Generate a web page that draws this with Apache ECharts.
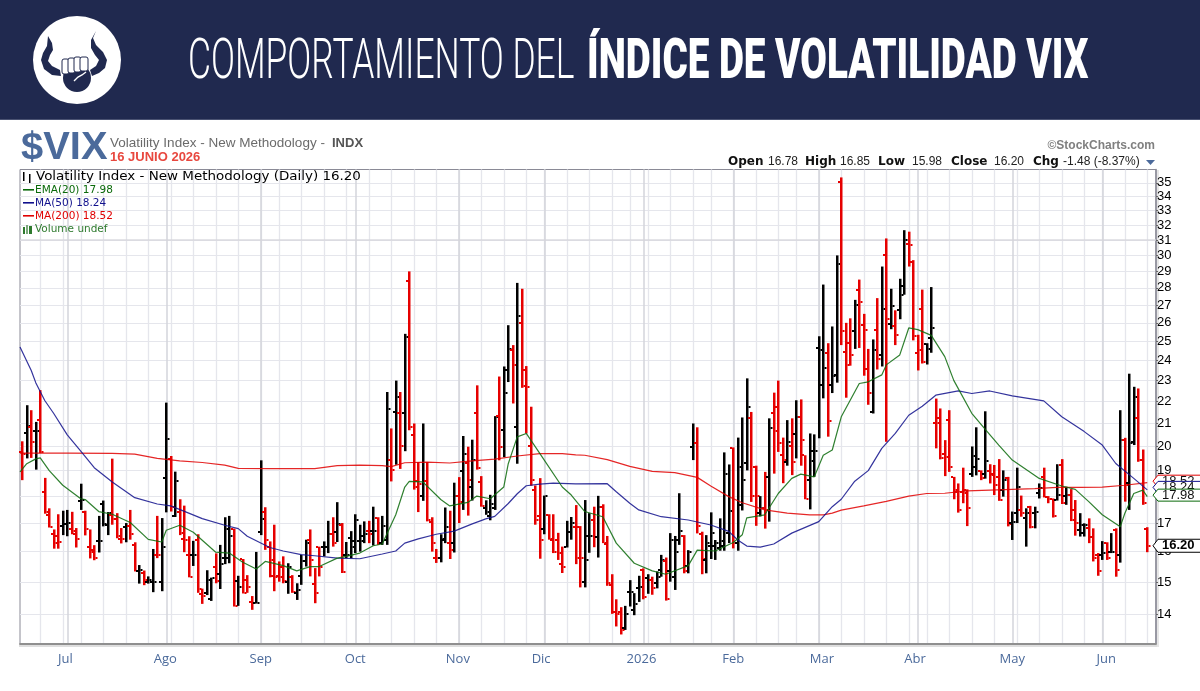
<!DOCTYPE html>
<html><head><meta charset="utf-8">
<style>html,body{margin:0;padding:0;background:#fff}#c{width:1200px;height:691px}</style>
<script src="https://cdn.jsdelivr.net/npm/echarts@6/dist/echarts.min.js"></script>
</head><body><div id="c"></div>
<script>
const opens=[19.76,20.56,20.85,20.66,21.15,18.15,17.3,16.62,16.53,16.88,
16.98,16.77,16.6,17.82,17.42,16.17,16.06,16.38,17.7,16.94,
17.3,17.14,16.44,16.85,16.88,16.22,15.37,15.28,15.01,15.0,
15.87,15.01,18.7,19.49,17.26,17.42,16.44,15.9,15.87,16.4,
14.61,14.64,14.46,15.5,15.25,15.78,15.78,16.77,15.04,15.75,
15.06,14.38,14.36,16.68,17.39,16.17,15.2,15.2,15.5,15.01,
15.17,14.66,15.18,15.67,16.41,14.94,16.17,16.17,16.17,16.6,
16.68,16.92,15.89,16.47,16.35,16.35,16.53,16.71,16.71,17.18,
16.29,16.41,19.42,21.5,21.45,21.46,28.4,20.5,18.6,18.0,
18.6,17.02,15.78,15.78,16.41,16.29,16.29,18.02,19.0,19.32,
18.35,21.45,18.53,17.54,17.24,17.54,21.33,20.72,23.5,24.55,
20.84,25.97,23.5,20.0,18.22,17.24,16.8,17.3,16.41,16.41,
15.58,16.17,16.68,16.85,16.87,15.01,16.54,17.11,16.52,17.6,
16.25,14.91,14.08,14.08,13.6,14.67,14.13,14.8,15.4,15.12,
15.06,14.98,15.39,15.68,15.34,15.17,16.4,16.54,15.52,19.99,
20.13,16.6,15.72,16.18,16.18,16.11,16.18,16.64,19.95,16.29,
17.66,19.29,21.26,19.13,17.36,17.54,18.75,21.49,21.76,19.63,
19.35,20.03,20.52,21.3,19.63,18.63,19.8,24.65,22.77,24.4,
22.77,23.27,35.05,24.45,24.9,25.55,27.85,25.9,23.55,21.5,
25.6,24.3,30.0,25.95,25.8,26.7,28.1,30.75,29.6,24.4,
26.8,24.85,25.15,21.03,21.25,19.7,21.15,18.73,18.17,18.17,
18.23,18.87,19.15,18.97,18.87,19.0,18.87,18.75,18.23,18.71,
17.01,17.38,17.48,17.2,17.58,17.36,18.1,18.75,17.95,17.88,
17.85,19.23,18.0,18.04,17.48,16.74,16.64,16.83,16.52,15.89,
15.89,16.29,15.97,16.74,15.89,20.27,18.49,20.2,21.25,19.43,
16.78];
const highs=[20.22,21.83,21.6,21.07,22.54,18.71,17.54,16.77,17.32,17.45,
17.48,17.41,16.82,18.48,17.45,16.77,16.22,17.26,17.83,17.4,
19.49,17.36,16.82,17.0,17.48,16.32,15.55,15.37,15.18,16.09,
17.26,17.18,21.95,19.6,18.96,17.88,17.64,16.53,16.37,16.6,
14.79,15.38,15.14,15.94,16.23,17.21,17.26,16.8,15.2,15.75,
15.22,14.56,15.99,19.42,17.58,16.35,16.94,15.67,15.84,15.61,
15.22,14.96,15.89,16.41,16.77,15.45,16.17,16.35,17.08,17.21,
17.77,17.0,16.33,16.71,17.32,16.94,17.06,17.08,17.6,17.21,
17.26,22.45,20.78,23.0,22.45,25.4,29.0,21.0,19.35,21.0,
19.35,17.21,16.09,16.6,17.57,17.45,18.52,18.74,20.45,19.99,
20.29,22.77,18.78,17.84,18.05,21.33,23.2,23.7,25.87,24.8,
28.3,27.95,23.72,21.76,18.41,18.7,18.02,17.32,17.32,16.65,
16.17,17.08,17.22,17.66,16.89,17.85,17.36,17.6,18.01,17.69,
16.54,15.25,14.46,14.22,14.26,15.06,14.65,15.2,15.44,15.25,
15.17,15.34,15.89,15.8,16.64,16.54,18.11,16.57,16.05,21.0,
20.83,16.69,16.57,17.39,16.4,17.17,19.75,19.25,19.96,20.38,
21.27,23.11,21.52,19.2,18.0,18.95,21.23,22.42,23.0,20.38,
21.15,21.23,22.06,22.1,19.63,20.56,20.52,25.27,28.2,24.9,
25.8,30.0,35.4,26.0,26.25,27.3,28.5,26.5,24.6,25.1,
27.4,29.3,31.1,27.95,26.7,28.55,31.65,31.55,29.7,25.35,
27.9,24.9,28.05,22.14,21.68,20.27,21.6,18.75,18.49,19.12,
18.26,20.0,20.83,19.01,21.55,19.26,19.23,19.47,19.01,18.75,
17.42,19.12,18.02,17.54,17.63,17.6,18.49,19.12,18.0,17.91,
19.26,19.47,18.36,18.27,17.85,17.36,16.99,17.17,16.81,15.95,
16.36,16.32,16.64,16.81,21.6,20.37,23.34,22.7,22.62,19.87,
16.85];
const lows=[18.62,19.5,19.52,19.04,19.72,17.34,16.84,16.1,16.1,16.57,
16.53,16.6,16.14,17.48,16.56,15.77,15.71,15.97,16.88,16.57,
16.94,16.46,16.28,16.32,16.41,15.34,14.95,14.9,14.95,14.68,
15.78,14.71,17.39,17.42,17.22,16.57,15.98,15.15,15.52,14.66,
14.32,14.59,14.41,14.96,14.78,15.58,15.61,14.24,14.26,14.64,
14.66,14.14,14.33,16.57,16.06,15.15,14.71,15.01,14.96,14.63,
14.66,14.44,14.91,15.5,15.18,14.34,15.18,15.84,15.95,16.17,
16.33,15.29,15.78,15.78,15.95,16.0,16.29,16.29,16.21,16.23,
16.23,16.23,18.57,19.24,19.07,19.8,20.7,18.25,17.4,17.82,
17.06,16.0,15.62,15.64,16.29,15.75,15.97,17.0,17.48,17.27,
17.83,19.04,17.6,17.3,17.1,17.48,19.42,19.55,22.93,21.91,
19.28,22.65,20.56,18.4,16.94,15.76,16.6,16.41,15.95,15.72,
15.29,16.14,16.41,15.58,14.83,14.83,15.96,16.15,15.8,16.29,
14.88,14.02,13.65,13.42,13.55,14.24,13.98,14.38,14.46,14.63,
14.6,14.8,15.17,14.42,15.01,14.75,16.23,15.28,15.28,19.43,
16.63,15.25,15.28,15.75,15.72,16.03,16.03,16.29,16.11,16.03,
17.46,19.01,17.78,16.9,17.24,16.8,17.05,18.88,19.77,18.5,
19.2,18.82,19.5,19.2,17.88,17.5,18.75,20.35,22.15,20.42,
22.4,22.9,24.8,22.18,23.74,24.6,24.65,23.24,21.85,21.45,
23.55,23.7,20.2,25.65,24.8,26.2,27.6,29.3,25.05,23.5,
23.85,23.8,24.4,19.92,19.46,18.78,18.95,17.88,17.38,17.73,
16.89,18.75,18.81,18.62,18.68,18.49,18.04,17.82,17.98,16.88,
16.4,17.0,17.23,16.17,16.81,16.81,17.91,17.95,17.73,17.2,
17.83,17.7,17.67,17.07,16.55,16.52,16.52,16.29,15.67,15.2,
15.72,15.72,15.95,15.17,15.63,17.79,17.48,20.06,19.36,17.67,
15.98];
const closes=[19.7,20.9,20.2,20.66,19.76,17.42,16.84,16.3,16.33,16.98,
17.0,16.71,16.44,17.84,16.78,16.0,15.78,16.38,16.96,17.36,
17.14,16.55,16.42,16.88,16.6,15.37,15.4,15.05,15.06,15.01,
15.87,16.17,20.34,17.6,18.6,16.65,16.41,15.17,15.88,14.78,
14.56,15.06,15.14,15.04,15.6,16.77,16.53,14.26,14.84,14.66,
14.84,14.36,14.36,17.15,16.41,15.72,15.17,15.17,15.03,15.5,
14.7,14.76,15.67,16.29,15.72,14.66,15.5,16.17,16.6,16.29,
16.98,15.32,15.9,16.17,17.12,16.35,16.6,16.62,16.72,16.29,
16.88,21.64,19.03,22.2,20.01,25.25,20.85,18.35,18.48,18.57,
17.1,16.29,15.78,16.44,16.85,16.06,18.02,17.78,19.7,18.62,
19.42,19.11,17.63,17.42,17.7,21.3,19.98,22.4,24.6,23.75,
26.4,22.75,22.7,18.62,17.12,16.41,18.02,16.44,16.0,15.95,
15.5,16.68,17.0,15.8,15.78,15.72,16.54,16.52,17.6,16.29,
14.96,14.07,14.03,13.55,14.03,14.7,14.33,14.85,14.54,15.06,
14.8,15.17,15.72,14.48,16.4,16.0,16.73,15.34,16.0,20.13,
16.89,15.75,16.29,16.64,16.29,16.35,18.88,17.44,16.29,19.13,
18.62,21.76,18.0,18.0,17.54,17.48,20.81,20.68,20.13,19.42,
20.2,19.34,21.3,20.26,17.9,19.4,19.8,24.52,23.6,21.13,
23.24,29.45,25.55,23.78,24.3,26.98,27.2,25.6,22.4,24.52,
24.1,26.75,26.2,26.95,25.35,27.6,31.0,30.65,25.3,24.52,
23.95,24.6,25.7,21.0,19.5,19.57,19.15,18.23,17.48,18.1,
17.54,19.6,19.46,18.69,19.4,18.81,18.43,17.85,18.62,16.95,
17.05,18.36,17.36,17.36,16.87,17.42,18.3,17.98,17.88,17.27,
18.04,17.73,18.04,17.11,16.99,16.92,16.92,16.52,15.79,15.37,
15.94,15.78,16.0,15.39,20.27,18.43,20.13,22.2,19.43,17.73,
16.2];
const directions=("RKRKRRRRRK"+"KRRKRRRKKK"+"RRRKRRKRKK"+"RKKRKRRRKR"+"RKKRKKKRKR"+"RRKKRRRRRK"+"RKKKRRRKKR"+"KRKKKKKRKR"+"KKRKRKRRRK"+"RRRKKRKRKR"+"KRRKKKRKKR"+"KRRRRRKRRR"+"RKKRRKKRKR"+"RRRRKKKKRK"+"RKKRKKKRKK"+"RRKKKKKKRK"+"KKRRKRKRRR"+"KRKRRKKKKR"+"KKRRRKRRRK"+"RKRKRKKRRR"+"RKKRRRRRRR"+"RKKRKRRRKR"+"KKRKRKKRRR"+"KRKRRKKRRR"+"KRKRKRKKRR"+"R").split("");

const ema20=[[-0.5,18.95],[1,19.28],[3,19.48],[4,19.52],[6,19],[9,18.42],[13,17.9],[14,17.87],[17,17.42],[20,17.32],[24,17.02],[28,16.42],[31,16.33],[32,16.74],[35,16.92],[38,16.67],[40,16.39],[43,15.98],[46,15.95],[49,15.64],[52,15.42],[54,15.67],[58,15.53],[61,15.36],[64,15.5],[66,15.5],[70,15.78],[72,15.84],[75,15.95],[78,16.2],[80,16.26],[83,17.3],[85,18.35],[86,18.57],[89,18.55],[93,17.87],[95,17.63],[99,17.76],[101,18],[104,17.9],[107,18.35],[108,19.28],[110,20.41],[112,20.56],[115,19.71],[120,18.35],[122,18.04],[125,17.42],[129,17.23],[132,16.29],[136,15.61],[140,15.36],[143,15.25],[148,15.53],[150,16.05],[154,16.02],[158,16.31],[160,16.58],[161,17.19],[165,17.3],[168,18.1],[171,18.69],[173,18.86],[176,18.75],[178,19.63],[180,19.85],[182,21.3],[186,22.86],[188,22.94],[191,23.28],[192,23.78],[195,24.29],[197,25.72],[199,25.63],[202,25.32],[205,24.2],[207,23.01],[211,21.46],[214,20.74],[217,20.06],[220,19.43],[226,18.69],[231,18.39],[234,18.26],[237,17.79],[240,17.3],[244,16.87],[245,17.35],[247,18.1],[249,18.23],[250,17.98]];
const ma50=[[-0.5,24.7],[2,23.5],[3,22.9],[5,22.05],[7,21.45],[10,20.5],[13,19.8],[16,19.12],[20,18.55],[25,17.94],[30,17.7],[33,17.63],[37,17.36],[40,17.16],[45,16.92],[48,16.8],[50,16.53],[55,16.14],[58,16.02],[62,15.9],[65,15.86],[70,15.78],[75,15.76],[80,15.92],[83,16.02],[85,16.29],[88,16.44],[92,16.6],[96,16.71],[100,16.97],[103,17.15],[105,17.24],[108,17.72],[110,18.09],[112,18.4],[115,18.46],[118,18.5],[123,18.47],[130,18.48],[132,18.17],[135,17.73],[137,17.48],[142,17.23],[148,17.11],[153,16.93],[157,16.7],[159,16.4],[161,16.19],[164,16.15],[167,16.26],[171,16.64],[177,17.05],[180,17.6],[182,17.88],[185,18.58],[188,19],[191,19.92],[194,20.56],[197,21.37],[200,21.78],[203,22.3],[208,22.5],[211,22.38],[215,22.5],[220,22.27],[227,22.03],[231,21.3],[236,20.64],[240,20.06],[243,19.29],[247,18.69],[250,18.24]];
const ma200=[[-0.5,19.72],[10,19.72],[20,19.71],[25,19.68],[30,19.5],[35,19.4],[40,19.33],[45,19.22],[48,19.09],[55,19.08],[60,19.08],[65,19.08],[70,19.2],[75,19.22],[80,19.2],[82,19.16],[85,19.32],[90,19.35],[95,19.31],[100,19.4],[105,19.47],[110,19.6],[115,19.7],[120,19.7],[123,19.65],[125,19.63],[130,19.45],[135,19.17],[140,18.97],[145,18.92],[150,18.73],[153,18.39],[157,17.98],[160,17.75],[165,17.48],[170,17.36],[175,17.3],[178,17.3],[180,17.36],[182,17.47],[187,17.63],[192,17.8],[197,18],[201,18.1],[205,18.11],[210,18.2],[220,18.26],[225,18.29],[230,18.34],[235,18.34],[240,18.35],[245,18.42],[250,18.52]];

const yTicks=[14,15,16,17,18,19,20,21,22,23,24,25,26,27,28,29,30,31,32,33,34,35];
const majorPriceLine=[[-0.5,31],[251.94,31]];
const weekIdx=[4,9,13,18,23,28,33,38,43,48,53,57,62,67,72,77,82,87,92,97,102,107,112,116,121,126,131,135,139,144,149,153,158,163,168,172,177,182,187,192,197,201,206,211,216,221,226,231,236,240,245,250];
const monthIdx=[10,32,53,74,97,116,138,158,177,199,220,240];
const monthNames=["Jul","Ago","Sep","Oct","Nov","Dic","2026","Feb","Mar","Abr","May","Jun"];
const monthLabelAt=[9.6,31.8,53,74,96.8,115.3,137.6,158,177.7,198.4,220,240.9];
const endTags=[[18.52,"18.52","#e00000"],[18.24,"18.24","#10108c"],[17.98,"17.98","#0a6a0a"],[16.20,"16.20","#000000"]];

const NAVY="#20294f", RED="#e60000", BLACK="#000";
const bars=opens.map((o,i)=>[i,o,highs[i],lows[i],closes[i],directions[i]]);

function renderBar(params,api){
  const i=api.value(0);
  const pO=api.coord([i,api.value(1)]),pH=api.coord([i,api.value(2)]),pL=api.coord([i,api.value(3)]),pC=api.coord([i,api.value(4)]);
  const fill=bars[params.dataIndex][5]==="R"?RED:BLACK;
  const x=Math.round(pO[0]-1.2);
  const st={fill};
  return {type:"group",silent:true,children:[
    {type:"rect",shape:{x:x,y:pH[1],width:2.5,height:Math.max(pL[1]-pH[1],1)},style:st},
    {type:"rect",shape:{x:x-2,y:Math.round(pO[1]-1),width:2,height:2},style:st},
    {type:"rect",shape:{x:x+2.5,y:Math.round(pC[1]-1),width:2,height:2},style:st}
  ]};
}
const tagShift=[-1.5,-2.5,-1.5,0], tagBold=[false,false,false,true];
function renderTag(params,api){
  const k=params.dataIndex;
  const p=api.coord([250,api.value(0)]);
  const t=endTags[k];
  const xL=1158,cy=p[1]+tagShift[k],h=k===3?13:12;
  return {type:"group",silent:true,children:[
    {type:"polygon",shape:{points:[[xL,cy-h/2],[1200,cy-h/2],[1200,cy+h/2],[xL,cy+h/2],[xL-5,cy]]},style:{fill:"#fff",stroke:"none"}},
    {type:"polyline",shape:{points:[[1200,cy-h/2],[xL,cy-h/2],[xL-5,cy],[xL,cy+h/2],[1200,cy+h/2]]},style:{fill:"none",stroke:t[2],lineWidth:1}},
    {type:"text",x:1162,y:cy,style:{text:t[1],font:(tagBold[k]?"bold ":"")+"13px 'Liberation Sans'",fill:k===3?"#000":"#111",textVerticalAlign:"middle"}}
  ]};
}
const sans="'Liberation Sans',Arial,sans-serif";
const hdrB="bold 12px 'DejaVu Sans'", hdrN="12px "+sans;
const hdr=(x,text,font,fill)=>({type:"text",z:2,x,y:161.5,style:{text,font,fill,textVerticalAlign:"middle"}});
const gfx=[
 {type:"rect",z:0,shape:{x:0,y:0,width:1200,height:119},style:{fill:NAVY}},
 {type:"rect",z:0,shape:{x:0,y:119,width:1200,height:1},style:{fill:"#4a5272"}},
 {type:"rect",z:0,shape:{x:19,y:645,width:1140,height:2},style:{fill:"#dedede"}},
 {type:"rect",z:0,shape:{x:1157,y:170,width:2,height:477},style:{fill:"#e6e6e6"}},
 {type:"circle",z:1,shape:{cx:77,cy:60,r:44},style:{fill:"#fff"}},
 {type:"polygon",z:2,shape:{points:[[48,36],[52,43],[53,50],[50,55],[48,61],[52,66],[60,70],[61,76],[52,75],[44,69],[41,60],[43,53],[47,46]]},style:{fill:NAVY}},
 {type:"polygon",z:2,shape:{points:[[96,31],[93,38],[96,45],[103,52],[107,60],[105,68],[99,73],[92,76],[90,70],[96,66],[99,60],[95,55],[91,48],[91,40]]},style:{fill:NAVY}},
 {type:"circle",z:2,shape:{cx:77,cy:78,r:14},style:{fill:NAVY}},
 {type:"rect",z:3,shape:{x:62,y:59,width:7,height:15,r:2},style:{fill:"#fff",stroke:NAVY,lineWidth:1}},
 {type:"rect",z:3,shape:{x:68,y:58,width:7,height:15,r:2},style:{fill:"#fff",stroke:NAVY,lineWidth:1}},
 {type:"rect",z:3,shape:{x:74,y:57,width:7,height:15,r:2},style:{fill:"#fff",stroke:NAVY,lineWidth:1}},
 {type:"rect",z:3,shape:{x:80,y:57,width:8,height:14,r:2},style:{fill:"#fff",stroke:NAVY,lineWidth:1}},
 {type:"polyline",z:3,shape:{points:[[74,81],[78,77],[82,75],[86,72]]},style:{fill:"none",stroke:"#fff",lineWidth:1.4}},
 {type:"text",z:2,x:188,y:64,scaleX:0.632,style:{text:"COMPORTAMIENTO DEL",font:"300 56px Roboto",fill:"#fff",textVerticalAlign:"middle"}},
 {type:"text",z:2,x:587,y:64,scaleX:0.689,style:{text:"ÍNDICE DE VOLATILIDAD VIX",font:"900 56px Roboto",fill:"#fff",textVerticalAlign:"middle"}},
 {type:"text",z:2,x:21,y:149,scaleX:1.05,style:{text:"$VIX",font:"bold 38px "+sans,fill:"#4b6a9b",textVerticalAlign:"middle"}},
 {type:"text",z:2,x:110,y:143,scaleX:1.04,style:{text:"Volatility Index - New Methodology -",font:"13px "+sans,fill:"#6b6b6b",textVerticalAlign:"middle"}},
 {type:"text",z:2,x:332,y:143,style:{text:"INDX",font:"bold 13px "+sans,fill:"#555",textVerticalAlign:"middle"}},
 {type:"text",z:2,x:110,y:157,style:{text:"16 JUNIO 2026",font:"bold 13px "+sans,fill:"#e8483f",textVerticalAlign:"middle"}},
 {type:"text",z:2,x:1155,y:146,style:{text:"©StockCharts.com",font:"bold 12px "+sans,fill:"#808080",textAlign:"right",textVerticalAlign:"middle"}},
 hdr(728,"Open",hdrB,"#111"),hdr(768,"16.78",hdrN,"#222"),
 hdr(805,"High",hdrB,"#111"),hdr(840,"16.85",hdrN,"#222"),
 hdr(878,"Low",hdrB,"#111"),hdr(912,"15.98",hdrN,"#222"),
 hdr(951,"Close",hdrB,"#111"),hdr(994,"16.20",hdrN,"#222"),
 hdr(1033,"Chg",hdrB,"#111"),hdr(1063,"-1.48 (-8.37%)",hdrN,"#222"),
 {type:"polygon",z:2,shape:{points:[[1146,160],[1155,160],[1150.5,165]]},style:{fill:"#4b6a9b"}},
 {type:"rect",z:20,shape:{x:23,y:172,width:1.5,height:9},style:{fill:"#000"}},
 {type:"rect",z:20,shape:{x:29,y:174,width:1.5,height:9},style:{fill:"#000"}},
 {type:"text",z:20,x:36,y:177,scaleX:1.12,style:{text:"Volatility Index - New Methodology (Daily) 16.20",font:"12px 'DejaVu Sans'",fill:"#000",textVerticalAlign:"middle"}},
 {type:"rect",z:20,shape:{x:23,y:189,width:11,height:1.6},style:{fill:"#0a6a0a"}},
 {type:"text",z:20,x:35,y:190,style:{text:"EMA(20) 17.98",font:"10.5px 'DejaVu Sans'",fill:"#0a6a0a",textVerticalAlign:"middle"}},
 {type:"rect",z:20,shape:{x:23,y:202,width:11,height:1.6},style:{fill:"#10108c"}},
 {type:"text",z:20,x:35,y:203,style:{text:"MA(50) 18.24",font:"10.5px 'DejaVu Sans'",fill:"#10108c",textVerticalAlign:"middle"}},
 {type:"rect",z:20,shape:{x:23,y:215,width:11,height:1.6},style:{fill:"#e00000"}},
 {type:"text",z:20,x:35,y:216,style:{text:"MA(200) 18.52",font:"10.5px 'DejaVu Sans'",fill:"#e00000",textVerticalAlign:"middle"}},
 {type:"rect",z:20,shape:{x:23,y:227,width:2,height:7},style:{fill:"#2e7a2e"}},
 {type:"rect",z:20,shape:{x:26,y:225,width:2,height:9},style:{fill:"#7aa87a"}},
 {type:"rect",z:20,shape:{x:29,y:226,width:3,height:8},style:{fill:"#2e7a2e"}},
 {type:"text",z:20,x:35,y:229.5,style:{text:"Volume undef",font:"10.5px 'DejaVu Sans'",fill:"#2e7a2e",textVerticalAlign:"middle"}}
];
const chart=echarts.init(document.getElementById("c"),null,{renderer:"canvas"});
const lineOf=(name,data,color,width,z)=>({type:"line",name,data,xAxisIndex:0,yAxisIndex:0,showSymbol:false,symbol:"none",smooth:false,lineStyle:{color,width,opacity:.85},z,silent:true,animation:false});
chart.setOption({
 animation:false,
 backgroundColor:"#fff",
 graphic:gfx,
 grid:{left:20,right:44,top:169.5,bottom:47.5,show:true,backgroundColor:"#fff",borderColor:"#8a8a96",borderWidth:1,containLabel:false},
 xAxis:[
  {type:"value",min:-0.5,max:251.94,position:"bottom",
   axisLine:{show:true,onZero:false,lineStyle:{color:"#8f8f8f",width:2}},
   axisTick:{show:false,customValues:weekIdx},
   axisLabel:{show:true,customValues:monthLabelAt,margin:9,color:"#4b6a9b",fontSize:13,fontFamily:"'Open Sans'",
     formatter:v=>{let b=0;monthLabelAt.forEach((m,i)=>{if(Math.abs(m-v)<Math.abs(monthLabelAt[b]-v))b=i;});return monthNames[b];}},
   splitLine:{show:true,lineStyle:{color:"#e5e6ec",width:1.3}}},
  {type:"value",min:-0.5,max:251.94,position:"top",
   axisLine:{show:false},axisLabel:{show:false},
   axisTick:{show:false,customValues:monthIdx},
   splitLine:{show:true,lineStyle:{color:"#d3d4db",width:1.5}}}
 ],
 yAxis:[{type:"log",logBase:10,min:13.165,max:36,position:"right",
   axisLine:{show:true,onZero:false,lineStyle:{color:"#8a8a96",width:1.5}},
   axisTick:{show:true,inside:false,length:2,lineStyle:{color:"#666"},customValues:yTicks},
   axisLabel:{show:true,customValues:yTicks,margin:1,color:"#000",fontSize:13,fontFamily:sans},
   splitLine:{show:true,lineStyle:{color:"#e5e6ec",width:1}}}],
 series:[
  lineOf("grid31",majorPriceLine,"#d3d4db",1.5,1),
  {type:"custom",name:"OHLC",data:bars.map(b=>b.slice(0,5)),encode:{x:0,y:[1,2,3,4]},renderItem:renderBar,clip:false,z:4,silent:true},
  lineOf("MA(200)",ma200,"#e00000",1.2,6),
  lineOf("MA(50)",ma50,"#10108c",1.2,6),
  lineOf("EMA(20)",ema20,"#0a6a0a",1.2,6),
  {type:"custom",name:"tags",data:endTags.map(t=>[t[0]]),encode:{y:0},renderItem:renderTag,clip:false,z:10,silent:true}
 ]
});
</script></body></html>
